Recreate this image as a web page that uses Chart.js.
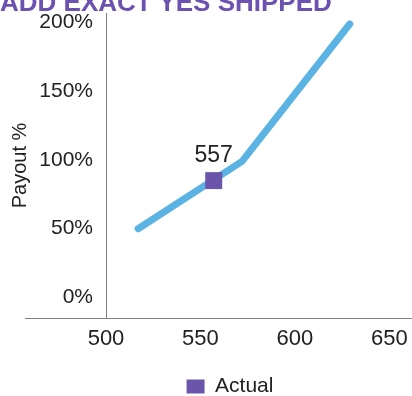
<!DOCTYPE html>
<html>
<head>
<meta charset="utf-8">
<script src="https://cdn.jsdelivr.net/npm/chart.js@4/dist/chart.umd.min.js"></script>
<style>
  html, body { margin: 0; padding: 0; background: #fff; }
  /* the source image is cropped on the right and top */
  #wrap { position: relative; width: 412px; height: 396px; overflow: hidden; }
  #heading {
    position: absolute; left: 0; top: -11px; white-space: nowrap;
    font: bold 26px "Liberation Sans", Arial, sans-serif; color: #6b52b0;
    line-height: 1;
  }
  canvas { position: absolute; left: 0; top: 0; }
</style>
</head>
<body>
<div id="wrap">
  <canvas id="payoutChart" width="460" height="396"></canvas>
  <div id="heading">ADD EXACT YES SHIPPED</div>
</div>
<script>
// payout curve and actual point
const curveX = [517, 572, 629];
const curveY = [50, 99, 199];
const actualX = [557];
const actualY = [85];
const xTicks = [500, 550, 600, 650];
const yTicks = [0, 50, 100, 150, 200];
const seriesNames = ['Payout', 'Actual'];
const yTitle = 'Payout %';

const FONT = '"Liberation Sans", Arial, sans-serif';
const axisGrey = '#808080';

// x axis line runs a bit left past the y axis
const axisExtend = {
    id: 'axisExtend',
    afterDraw(chart) {
        const { ctx, chartArea } = chart;
        ctx.save();
        ctx.strokeStyle = axisGrey;
        ctx.lineWidth = 1;
        ctx.beginPath();
        ctx.moveTo(25, chartArea.bottom + 0.5);
        ctx.lineTo(chartArea.left, chartArea.bottom + 0.5);
        ctx.stroke();
        ctx.restore();
    }
};

// value label above the actual marker
const actualLabel = {
    id: 'actualLabel',
    afterDatasetsDraw(chart) {
        const meta = chart.getDatasetMeta(0);
        const { ctx } = chart;
        ctx.save();
        ctx.font = '23px ' + FONT;
        ctx.fillStyle = '#222';
        ctx.textAlign = 'center';
        ctx.textBaseline = 'middle';
        meta.data.forEach((pt, i) => {
            ctx.fillText(String(actualX[i]), pt.x, pt.y - 25);
        });
        ctx.restore();
    }
};

const ctx = document.getElementById('payoutChart').getContext('2d');
new Chart(ctx, {
    type: 'scatter',
    data: {
        datasets: [{
            label: seriesNames[1],
            data: actualX.map((x, i) => ({ x, y: actualY[i] })),
            backgroundColor: '#6a55aa',
            borderWidth: 0,
            pointStyle: 'rect',
            pointRadius: 12,
            pointHoverRadius: 12
        }, {
            label: seriesNames[0],
            data: curveX.map((x, i) => ({ x, y: curveY[i] })),
            showLine: true,
            borderColor: '#5bb3e4',
            borderWidth: 7,
            borderCapStyle: 'round',
            borderJoinStyle: 'round',
            pointRadius: 0,
            pointHoverRadius: 0
        }]
    },
    options: {
        responsive: false,
        animation: false,
        layout: { padding: { top: 13, right: 0, left: 0, bottom: -11 } },
        plugins: {
            tooltip: { enabled: false },
            legend: {
                position: 'bottom',
                labels: {
                    filter: item => item.text === seriesNames[1],
                    boxWidth: 18,
                    boxHeight: 14,
                    padding: 10,
                    color: '#222',
                    font: { family: FONT, size: 21 }
                }
            }
        },
        scales: {
            x: {
                type: 'linear',
                min: 500,
                max: 681,
                afterBuildTicks: s => { s.ticks = xTicks.map(v => ({ value: v })); },
                afterFit: s => { s.height = 48; s.paddingLeft = 0; s.paddingRight = 0; },
                grid: { display: false, drawTicks: false },
                border: { display: true, color: axisGrey, width: 1 },
                ticks: {
                    padding: 8,
                    maxRotation: 0,
                    autoSkip: false,
                    color: '#222',
                    font: { family: FONT, size: 22 }
                }
            },
            y: {
                min: -15,
                max: 207,
                afterBuildTicks: s => { s.ticks = yTicks.map(v => ({ value: v })); },
                afterFit: s => { s.width = 106; s.paddingTop = 0; s.paddingBottom = 0; },
                grid: { display: false, drawTicks: false },
                border: { display: true, color: axisGrey, width: 1 },
                title: {
                    display: true,
                    text: yTitle,
                    color: '#222',
                    padding: { top: 8, bottom: 0 },
                    font: { family: FONT, size: 20 }
                },
                ticks: {
                    padding: 13,
                    color: '#222',
                    font: { family: FONT, size: 21 },
                    callback: v => v + '%'
                }
            }
        }
    },
    plugins: [axisExtend, actualLabel]
});
</script>
</body>
</html>
